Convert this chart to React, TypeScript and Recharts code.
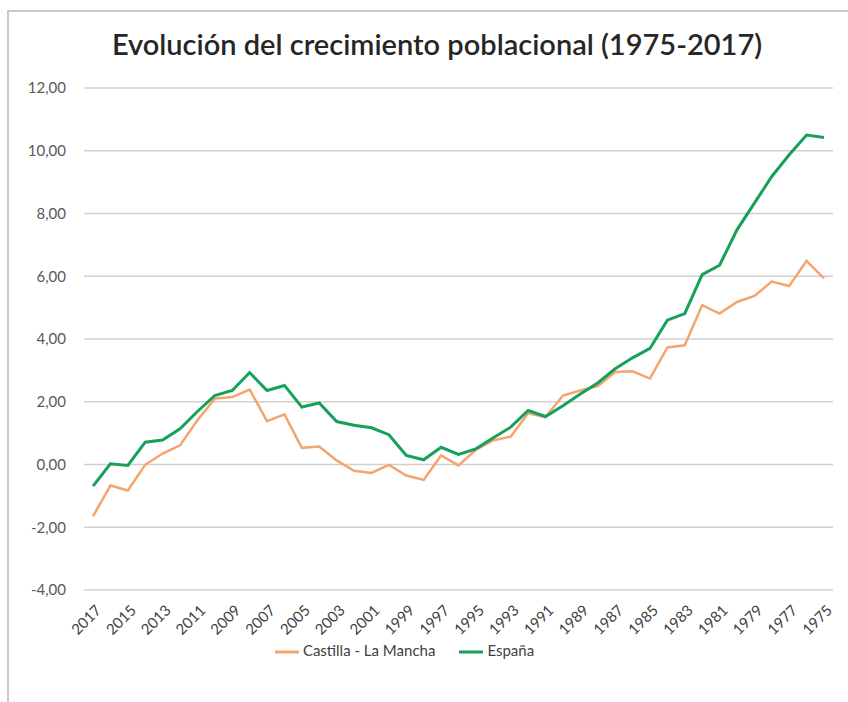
import React from "react";
import { LineChart, Line, XAxis, YAxis, CartesianGrid, Legend } from "recharts";

const years: string[] = [
  "2017","2016","2015","2014","2013","2012","2011","2010","2009","2008",
  "2007","2006","2005","2004","2003","2002","2001","2000","1999","1998",
  "1997","1996","1995","1994","1993","1992","1991","1990","1989","1988",
  "1987","1986","1985","1984","1983","1982","1981","1980","1979","1978",
  "1977","1976","1975",
];

const castilla: number[] = [
  -1.65, -0.67, -0.83, -0.01, 0.35, 0.61, 1.41, 2.1, 2.15, 2.39,
  1.38, 1.6, 0.53, 0.57, 0.13, -0.2, -0.27, -0.01, -0.35, -0.49,
  0.29, -0.03, 0.47, 0.77, 0.89, 1.63, 1.51, 2.2, 2.36, 2.5,
  2.95, 2.97, 2.74, 3.73, 3.8, 5.08, 4.81, 5.18, 5.37, 5.83,
  5.69, 6.49, 5.93,
];

const espana: number[] = [
  -0.69, 0.02, -0.03, 0.71, 0.78, 1.14, 1.69, 2.2, 2.36, 2.93,
  2.36, 2.52, 1.83, 1.96, 1.37, 1.25, 1.17, 0.95, 0.29, 0.15,
  0.55, 0.32, 0.5, 0.85, 1.19, 1.72, 1.53, 1.87, 2.25, 2.6,
  3.05, 3.4, 3.7, 4.6, 4.81, 6.05, 6.35, 7.48, 8.33, 9.18,
  9.87, 10.5, 10.42,
];

const yTicks: number[] = [-4, -2, 0, 2, 4, 6, 8, 10, 12];

const title = "Evolución del crecimiento poblacional (1975-2017)";
const seriesNames = { castilla: "Castilla - La Mancha", espana: "España" };

const data = years.map((y, i) => ({ year: y, castilla: castilla[i], espana: espana[i] }));

const FONT = "Lato, 'Open Sans', sans-serif";

const fmt = (v: number) => v.toFixed(2).replace(".", ",");

const XTick = (props: any) => {
  const { x, y, payload } = props;
  return (
    <g transform={`translate(${x + 5},${y + 9})`}>
      <text
        transform="rotate(-45)"
        textAnchor="end"
        dominantBaseline="central"
        fontSize={15}
        fill="#404040"
        fontFamily={FONT}
      >
        {payload.value}
      </text>
    </g>
  );
};

export default function App() {
  return (
    <div style={{ position: "absolute", left: 0, top: 0, width: 848, height: 702, background: "#fff" }}>
      <div
        style={{
          position: "absolute",
          left: 7,
          top: 10,
          width: 841,
          height: 692,
          borderLeft: "2px solid #c9c9c9",
          borderTop: "2px solid #c9c9c9",
        }}
      />
      <div
        style={{
          position: "absolute",
          left: 0,
          top: 26,
          width: 874,
          textAlign: "center",
          fontFamily: FONT,
          fontSize: 29,
          fontWeight: 600,
          color: "#262626",
        }}
      >
        {title}
      </div>
      <LineChart
        width={848}
        height={702}
        data={data}
        margin={{ top: 88, right: 15, left: 0, bottom: 38 }}
        style={{ position: "absolute", left: 0, top: 0 }}
      >
        <CartesianGrid vertical={false} stroke="#d0d0d0" strokeWidth={1.5} />
        <XAxis
          dataKey="year"
          interval={1}
          tick={<XTick />}
          tickLine={false}
          axisLine={false}
          height={50}
          padding={{ left: 9, right: 9 }}
        />
        <YAxis
          domain={[-4, 12]}
          ticks={yTicks}
          tickFormatter={fmt}
          width={84}
          tickLine={false}
          axisLine={false}
          tickMargin={12}
          tick={{ fontSize: 15, fill: "#595959", fontFamily: FONT }}
        />
        <Legend
          verticalAlign="bottom"
          align="center"
          iconType="plainline"
          iconSize={24}
          wrapperStyle={{ fontFamily: FONT, fontSize: 15, color: "#404040" }}
          formatter={(value: string) => <span style={{ color: "#404040", marginRight: 14 }}>{value}</span>}
        />
        <Line
          type="linear"
          dataKey="castilla"
          name={seriesNames.castilla}
          stroke="#F4A46C"
          strokeWidth={2.5}
          dot={false}
          isAnimationActive={false}
        />
        <Line
          type="linear"
          dataKey="espana"
          name={seriesNames.espana}
          stroke="#17A05A"
          strokeWidth={3}
          dot={false}
          isAnimationActive={false}
        />
      </LineChart>
    </div>
  );
}
